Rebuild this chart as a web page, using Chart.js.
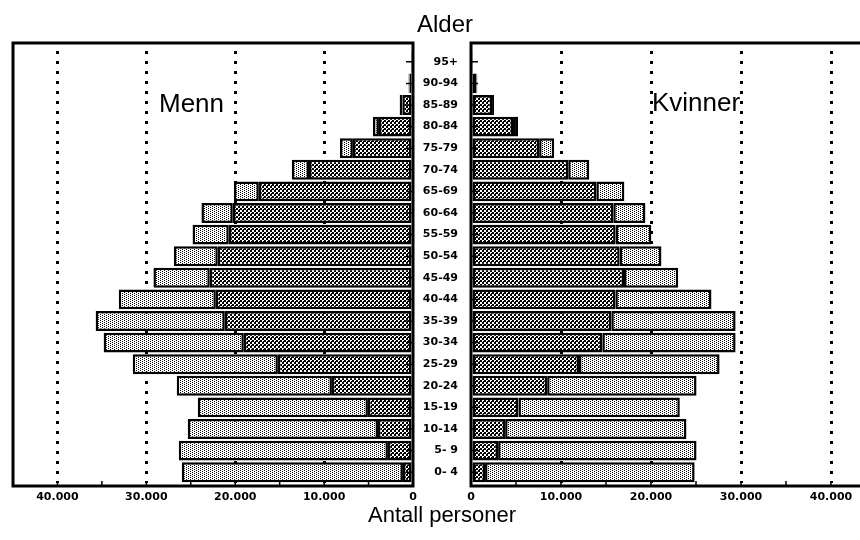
<!DOCTYPE html>
<html>
<head>
<meta charset="utf-8">
<script src="https://cdn.jsdelivr.net/npm/chart.js@4.4.1/dist/chart.umd.min.js"></script>
<style>
  html, body { margin:0; padding:0; background:#fff; }
  body { width:860px; height:540px; overflow:hidden; position:relative; font-family:"Liberation Sans", Arial, sans-serif; }
  .box { position:absolute; top:0; height:540px; }
  .txt { position:absolute; white-space:nowrap; line-height:1; color:#000; }
</style>
</head>
<body>
<div class="box" style="left:0;width:430px;"><canvas id="cl"></canvas></div>
<div class="box" style="left:400px;width:500px;"><canvas id="cr"></canvas></div>
<div class="txt" style="left:445px;top:12px;font-size:24px;transform:translateX(-50%);">Alder</div>
<div class="txt" style="left:159px;top:90px;font-size:26px;">Menn</div>
<div class="txt" style="left:652px;top:89px;font-size:26px;">Kvinner</div>
<div class="txt" style="left:442px;top:504px;font-size:22px;transform:translateX(-50%);">Antall personer</div>
<script>
// ---- data (top row first) ----
const ageGroups = ['95+','90-94','85-89','80-84','75-79','70-74','65-69','60-64','55-59','50-54',
                   '45-49','40-44','35-39','30-34','25-29','20-24','15-19','10-14','5- 9','0- 4'];
// Men: inner (dark) segment and outer (light) segment
const menInner = [80, 400, 1200, 3830, 6760, 11700, 17340, 20270, 20720, 21960,
                  22860, 22180, 21170, 19030, 15200, 9120, 5070, 3940, 2820, 1130];
const menOuter = [0, 100, 300, 670, 1460, 1930, 2810, 3530, 4080, 4940,
                  6340, 10920, 14530, 15770, 16330, 17460, 19140, 21400, 23530, 24880];
// Women: inner (dark) segment and outer (light) segment
const womenInner = [200, 600, 2340, 4670, 7570, 10800, 13920, 15810, 16070, 16520,
                    17000, 16040, 15590, 14590, 12000, 8460, 5270, 3790, 3010, 1560];
const womenOuter = [0, 100, 220, 560, 1670, 2340, 3120, 3570, 3970, 4640,
                    6020, 10680, 13810, 14810, 15620, 16600, 17930, 20150, 22050, 23290];
const tickValues = [0, 10000, 20000, 30000, 40000];
const tickLabels = ['0', '10.000', '20.000', '30.000', '40.000'];

// ---- fill patterns ----
function makePattern(rows) {
  const c = document.createElement('canvas');
  c.width = rows[0].length; c.height = rows.length;
  const g = c.getContext('2d');
  g.fillStyle = '#fff'; g.fillRect(0, 0, c.width, c.height);
  g.fillStyle = '#000';
  rows.forEach((r, y) => { for (let x = 0; x < r.length; x++) if (r[x] === '#') g.fillRect(x, y, 1, 1); });
  return g.createPattern(c, 'repeat');
}
const lightPat = makePattern(['#...', '..#.']);
const darkPat = makePattern(['##..', '##.#', '..##', '..##']);

const tickFont = { family: '"DejaVu Sans", sans-serif', size: 11, weight: 'bold' };

function framePlugin(side) {
  return {
    id: 'frame' + side,
    afterDraw(chart) {
      const { ctx, chartArea: a } = chart;
      const y = chart.scales.y, x = chart.scales.x;
      const top = a.top - 8, bottom = a.bottom + 3;
      ctx.save();
      ctx.strokeStyle = '#000';
      ctx.lineWidth = 3;
      ctx.strokeRect(a.left, top, a.right - a.left, bottom - top);
      // inner category ticks
      ctx.lineWidth = 1.5;
      ctx.beginPath();
      for (let i = 0; i < ageGroups.length; i++) {
        const py = y.getPixelForValue(i);
        if (side === 'L') { ctx.moveTo(a.right, py); ctx.lineTo(a.right - 7, py); }
        else { ctx.moveTo(a.left, py); ctx.lineTo(a.left + 7, py); }
      }
      // bottom minor ticks every 5000
      for (let v = 5000; v < 45000; v += 5000) {
        const px = x.getPixelForValue(v);
        ctx.moveTo(px, bottom); ctx.lineTo(px, bottom - 5);
      }
      ctx.stroke();
      ctx.restore();
    }
  };
}

function makeChart(id, side, inner, outer) {
  const left = side === 'L';
  return new Chart(document.getElementById(id), {
    type: 'bar',
    data: {
      labels: ageGroups,
      datasets: [
        { data: inner, backgroundColor: darkPat },
        { data: outer, backgroundColor: lightPat }
      ]
    },
    options: {
      indexAxis: 'y',
      responsive: true,
      maintainAspectRatio: false,
      animation: false,
      devicePixelRatio: 1,
      datasets: { bar: { borderColor: '#000', borderWidth: 2.5, borderSkipped: false, barPercentage: 0.92, categoryPercentage: 1 } },
      layout: { padding: left ? { left: 13, right: 17, top: 51, bottom: 0 } : { left: 0, right: 24, top: 51, bottom: 0 } },
      plugins: { legend: { display: false }, tooltip: { enabled: false } },
      scales: {
        x: {
          stacked: true,
          reverse: left,
          min: 0, max: 45000,
          z: 1,
          afterFit: s => { s.height = 57; },
          afterBuildTicks: s => { s.ticks = tickValues.map(v => ({ value: v })); },
          ticks: {
            autoSkip: false, maxRotation: 0, color: '#000', font: tickFont, padding: 8,
            callback: v => { const i = tickValues.indexOf(v); return i >= 0 ? tickLabels[i] : ''; }
          },
          grid: {
            drawTicks: false, lineWidth: 3,
            color: c => (c.tick && c.tick.value === 0) ? 'rgba(0,0,0,0)' : '#000'
          },
          border: { display: false, dash: [3, 7] }
        },
        y: {
          stacked: true,
          position: left ? 'right' : 'left',
          afterFit: s => { s.width = left ? 0 : 71; },
          ticks: { display: !left, autoSkip: false, color: '#000', font: tickFont, padding: 13 },
          grid: { display: false, drawTicks: false },
          border: { display: false }
        }
      }
    },
    plugins: [framePlugin(side)]
  });
}

makeChart('cl', 'L', menInner, menOuter);
makeChart('cr', 'R', womenInner, womenOuter);
</script>
</body>
</html>
